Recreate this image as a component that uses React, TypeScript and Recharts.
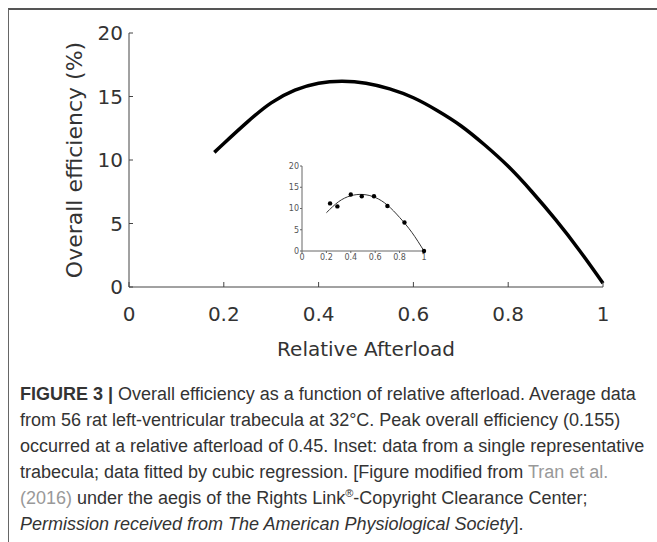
import { LineChart, Line, XAxis, YAxis, ComposedChart, Scatter } from 'recharts';

// main curve: overall efficiency (%) vs relative afterload
const afterload = [0.18, 0.2, 0.25, 0.3, 0.35, 0.4, 0.45, 0.5, 0.55, 0.6, 0.65, 0.7, 0.75, 0.8, 0.85, 0.9, 0.95, 1.0];
const efficiency = [10.6, 11.3, 13.0, 14.5, 15.5, 16.05, 16.2, 16.05, 15.6, 14.9, 13.9, 12.7, 11.2, 9.5, 7.5, 5.3, 2.9, 0.3];

// inset: single trabecula data + cubic fit
const insetPtX = [0.23, 0.29, 0.4, 0.49, 0.59, 0.7, 0.84, 1.0];
const insetPtY = [11.2, 10.5, 13.3, 12.9, 12.9, 10.6, 6.7, 0];
const insetFitX = [0.2, 0.3, 0.4, 0.5, 0.6, 0.7, 0.8, 0.9, 1.0];
const insetFitY = [9.0, 11.6, 13.0, 13.3, 12.6, 10.8, 7.9, 4.4, 0];

const xTicks = [0, 0.2, 0.4, 0.6, 0.8, 1];
const yTicks = [0, 5, 10, 15, 20];

const mainData = afterload.map((x, i) => ({ x, y: efficiency[i] }));
const insetPts = insetPtX.map((x, i) => ({ x, y: insetPtY[i] }));
const insetFit = insetFitX.map((x, i) => ({ x, y: insetFitY[i] }));

const fmt = (v: number) => (v === 0 ? '0' : v === 1 ? '1' : String(v));
const AXIS = '#444';
const TXT = '#333';
const FONT = '"DejaVu Sans", Verdana, sans-serif';
const X_MARGIN = 20;

function MainXTick({ x, y, payload }: any) {
  const ay = y - X_MARGIN;
  return (
    <g>
      <line x1={x} x2={x} y1={ay} y2={ay - 5} stroke={AXIS} />
      <text x={x} y={y} dy="0.71em" textAnchor="middle" fill={TXT} fontSize={20} fontFamily={FONT}>
        {fmt(payload.value)}
      </text>
    </g>
  );
}

function MainYTick({ x, y, payload }: any) {
  const ax = x + 6;
  return (
    <g>
      <line x1={ax} x2={ax + 4} y1={y} y2={y} stroke={AXIS} />
      <text x={x} y={y} dy="0.355em" textAnchor="end" fill={TXT} fontSize={20} fontFamily={FONT}>
        {payload.value}
      </text>
    </g>
  );
}

export default function App() {
  return (
    <div style={{ position: 'relative', width: 657, height: 542, overflow: 'hidden', background: '#fff' }}>
      <style>{`body{margin:0;overflow:hidden}`}</style>
      <div
        style={{
          position: 'absolute', left: 8, top: 8, width: 700, height: 600,
          borderTop: '2px solid #555', borderLeft: '1px solid #666',
        }}
      />
      <div style={{ position: 'absolute', left: 0, top: 0 }}>
        <LineChart width={657} height={380} data={mainData} margin={{ top: 33, right: 54, bottom: 0, left: 0 }}>
          <XAxis
            type="number" dataKey="x" domain={[0, 1]} ticks={xTicks} height={93}
            stroke={AXIS} tickLine={false} tickSize={0} tickMargin={X_MARGIN} tick={<MainXTick />}
          />
          <YAxis
            type="number" domain={[0, 20]} ticks={yTicks} width={129}
            stroke={AXIS} tickLine={false} tickSize={0} tickMargin={6} tick={<MainYTick />}
          />
          <Line dataKey="y" type="natural" stroke="#000" strokeWidth={3.5} dot={false} isAnimationActive={false} />
        </LineChart>
      </div>
      <div style={{ position: 'absolute', left: 0, top: 0 }}>
        <ComposedChart width={657} height={380} margin={{ top: 166, right: 233, bottom: 0, left: 0 }}>
          <XAxis
            type="number" dataKey="x" domain={[0, 1]} ticks={xTicks} height={129} tickFormatter={fmt}
            stroke="#666" tickSize={2} tickMargin={1} tick={{ fontSize: 8, fill: '#555', fontFamily: FONT }}
          />
          <YAxis
            type="number" dataKey="y" domain={[0, 20]} ticks={yTicks} width={302}
            stroke="#666" tickSize={2} tickMargin={1} tick={{ fontSize: 8, fill: '#555', fontFamily: FONT }}
          />
          <Line data={insetFit} dataKey="y" type="natural" stroke="#333" strokeWidth={1} dot={false} isAnimationActive={false} />
          <Scatter data={insetPts} dataKey="y" fill="#000" shape={(p: any) => <circle cx={p.cx} cy={p.cy} r={2.2} fill="#000" />} isAnimationActive={false} />
        </ComposedChart>
      </div>
      <div
        style={{
          position: 'absolute', left: 74, top: 160, transform: 'translate(-50%, -50%) rotate(-90deg)',
          whiteSpace: 'nowrap', fontFamily: FONT, fontSize: 22, color: TXT,
        }}
      >
        Overall efficiency (%)
      </div>
      <div
        style={{
          position: 'absolute', left: 366, top: 349, transform: 'translate(-50%, -50%)',
          whiteSpace: 'nowrap', fontFamily: FONT, fontSize: 20, color: TXT,
        }}
      >
        Relative Afterload
      </div>
      <div
        style={{
          position: 'absolute', left: 20, top: 381, whiteSpace: 'nowrap', lineHeight: '26px',
          fontFamily: '"Liberation Sans Narrow", "Arial Narrow", "Liberation Sans", sans-serif',
          fontSize: 18, color: '#333',
        }}
      >
        <div><b>FIGURE 3 |</b> Overall efficiency as a function of relative afterload. Average data</div>
        <div>from 56 rat left-ventricular trabecula at 32°C. Peak overall efficiency (0.155)</div>
        <div>occurred at a relative afterload of 0.45. Inset: data from a single representative</div>
        <div>trabecula; data fitted by cubic regression. [Figure modified from <span style={{ color: '#999' }}>Tran et al.</span></div>
        <div><span style={{ color: '#999' }}>(2016)</span> under the aegis of the Rights Link<sup style={{ fontSize: 11, lineHeight: 0 }}>®</sup>-Copyright Clearance Center;</div>
        <div><i>Permission received from The American Physiological Society</i>].</div>
      </div>
    </div>
  );
}
